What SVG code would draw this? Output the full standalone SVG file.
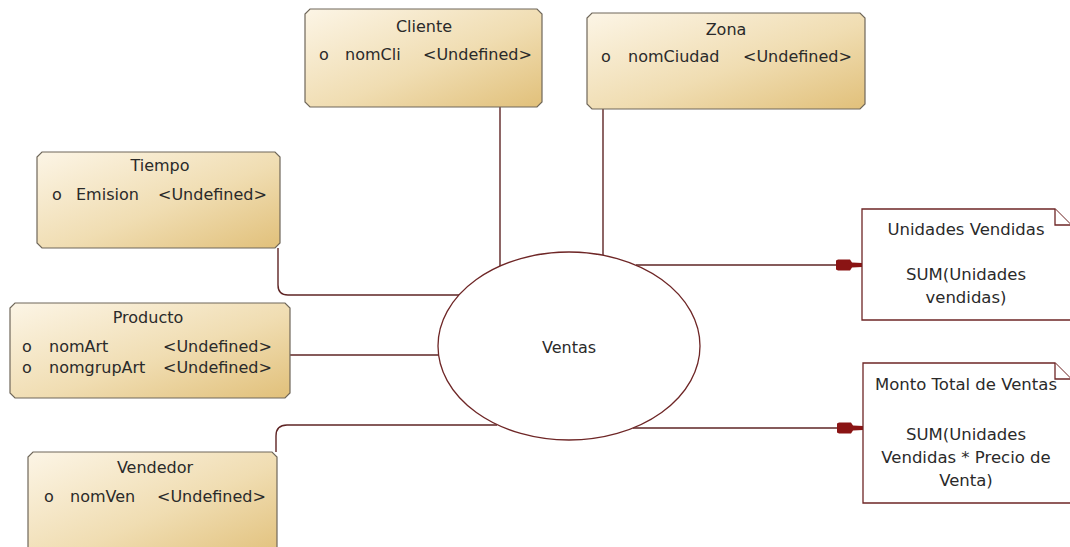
<svg xmlns="http://www.w3.org/2000/svg" width="1070" height="547" viewBox="0 0 1070 547">
  <defs>
    <linearGradient id="entityFill" x1="0" y1="0" x2="1" y2="1">
      <stop offset="0" stop-color="#fcf5e6"/>
      <stop offset="0.55" stop-color="#f0ddb2"/>
      <stop offset="1" stop-color="#e1c07a"/>
    </linearGradient>
    <marker id="arrow" viewBox="0 0 26 12" refX="26" refY="6" markerWidth="26" markerHeight="12" markerUnits="userSpaceOnUse" orient="auto">
      <path d="M0,1.5 L2,0.5 L14,0.5 L16,3.5 L26,4 V8 L16,8.5 L14,11.5 L2,11.5 L0,10.5 Z" fill="#8a1414"/>
    </marker>
    <style>
      text { font-family: "DejaVu Sans", "Liberation Sans", sans-serif; font-size: 16px; fill: #2a2a2a; }
      .title { text-anchor: middle; }
      .mid { text-anchor: middle; }
      .big { font-size: 16.5px; }
      .entity { fill: url(#entityFill); stroke: #6f675a; stroke-width: 1.2; }
      .note { fill: #ffffff; stroke: #6e2626; stroke-width: 1.3; }
      .fact { fill: #ffffff; stroke: #6e2626; stroke-width: 1.3; }
      .link { fill: none; stroke: #5e2424; stroke-width: 1.4; }
    </style>
  </defs>

  <rect width="1070" height="547" fill="#ffffff"/>

  <!-- connectors -->
  <g id="connectors">
    <path class="link" d="M500,107 V266"/>
    <path class="link" d="M603,109 V255"/>
    <path class="link" d="M278,248 V285 Q278,295 288,295 H460"/>
    <path class="link" d="M290,355 H438"/>
    <path class="link" d="M276,452 V436 Q276,425 287,425 H497"/>
    <path class="link" d="M636,265 H862" marker-end="url(#arrow)"/>
    <path class="link" d="M633,428 H863" marker-end="url(#arrow)"/>
  </g>

  <!-- fact -->
  <g id="ventas">
    <ellipse class="fact" cx="569" cy="346" rx="131" ry="94"/>
    <text class="mid" x="569" y="353">Ventas</text>
  </g>

  <!-- dimensions -->
  <g id="cliente">
    <path class="entity" d="M310,9 H537 L542,14 V102 L537,107 H310 L305,102 V14 Z"/>
    <text class="title" x="424" y="32">Cliente</text>
    <text x="319" y="60">o</text>
    <text x="345" y="60">nomCli</text>
    <text x="423" y="60">&lt;Undefined&gt;</text>
  </g>

  <g id="zona">
    <path class="entity" d="M592,13 H860 L865,18 V104 L860,109 H592 L587,104 V18 Z"/>
    <text class="title" x="726" y="35">Zona</text>
    <text x="601" y="62">o</text>
    <text x="628" y="62">nomCiudad</text>
    <text x="743" y="62">&lt;Undefined&gt;</text>
  </g>

  <g id="tiempo">
    <path class="entity" d="M42,152 H275 L280,157 V243 L275,248 H42 L37,243 V157 Z"/>
    <text class="title" x="160" y="171">Tiempo</text>
    <text x="52" y="200">o</text>
    <text x="76" y="200">Emision</text>
    <text x="158" y="200">&lt;Undefined&gt;</text>
  </g>

  <g id="producto">
    <path class="entity" d="M15,303 H285 L290,308 V393 L285,398 H15 L10,393 V308 Z"/>
    <text class="title" x="148" y="323">Producto</text>
    <text x="22" y="352">o</text>
    <text x="49" y="352">nomArt</text>
    <text x="163" y="352">&lt;Undefined&gt;</text>
    <text x="22" y="373">o</text>
    <text x="49" y="373">nomgrupArt</text>
    <text x="163" y="373">&lt;Undefined&gt;</text>
  </g>

  <g id="vendedor">
    <path class="entity" d="M33,452 H272 L277,457 V560 H28 V457 Z"/>
    <text class="title" x="155" y="473">Vendedor</text>
    <text x="44" y="502">o</text>
    <text x="70" y="502">nomVen</text>
    <text x="157" y="502">&lt;Undefined&gt;</text>
  </g>

  <!-- measures -->
  <g id="unidades-vendidas">
    <path class="note" d="M862,209 H1055 L1071,225 V320 H862 Z"/>
    <path class="note" d="M1055,209 V225 H1071"/>
    <text class="mid big" x="966" y="235">Unidades Vendidas</text>
    <text class="mid big" x="966" y="280">SUM(Unidades</text>
    <text class="mid big" x="966" y="303">vendidas)</text>
  </g>

  <g id="monto-total">
    <path class="note" d="M863,363 H1055 L1071,379 V503 H863 Z"/>
    <path class="note" d="M1055,363 V379 H1071"/>
    <text class="mid big" x="966" y="390">Monto Total de Ventas</text>
    <text class="mid big" x="966" y="440">SUM(Unidades</text>
    <text class="mid big" x="966" y="463">Vendidas * Precio de</text>
    <text class="mid big" x="966" y="486">Venta)</text>
  </g>
</svg>
